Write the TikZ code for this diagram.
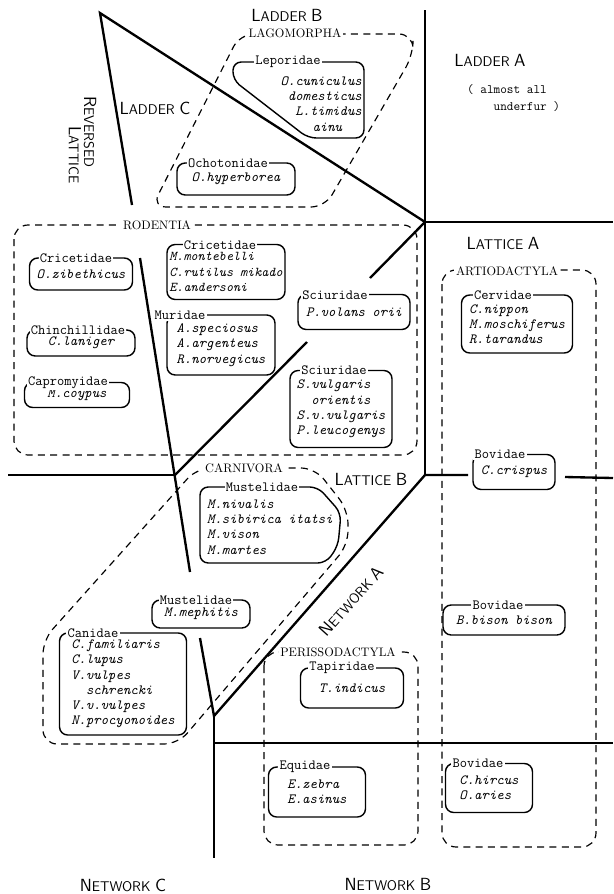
\documentclass[tikz,border=0pt]{standalone}
\usepackage{fontspec}

\newcommand{\pxl}{0.03cm}
\newcommand{\capl}[1]{{\fontsize{15}{15}\selectfont #1}}

\tikzset{
  divline/.style={line width=2pt},
  grp/.style={dash pattern=on 6pt off 4.5pt, line width=1pt, rounded corners=12pt},
  boxline/.style={line width=1.2pt, rounded corners=7pt},
  box/.style={draw, boxline, inner sep=0pt, font=\fontsize{12}{13}\selectfont\ttfamily\itshape},
  spp/.style={inner sep=0pt, font=\fontsize{12}{13}\selectfont\ttfamily\itshape},
  bx/.style 2 args={minimum width=#1*\pxl, minimum height=#2*\pxl},
  fam/.style={fill=white, inner sep=1pt, font=\fontsize{12}{13}\selectfont\ttfamily},
  grplbl/.style={fill=white, inner sep=1.5pt, font=\fontsize{10.5}{11}\selectfont\rmfamily},
  region/.style={font=\fontsize{12}{13}\selectfont\sffamily},
  note/.style={font=\fontsize{11}{14}\selectfont\ttfamily},
}

\begin{document}
\begin{tikzpicture}[x=\pxl, y=-\pxl]
\useasboundingbox (0,0) rectangle (613,894);

% junctions of the dividing lines
\coordinate (top) at (100,13);
\coordinate (hub) at (425,222);
\coordinate (west) at (175,475);
\coordinate (south) at (214,716);
\coordinate (east) at (425,475);

% dividing lines
\draw[divline] (132,205) -- (top) -- (hub);
\draw[divline] (425,10) -- (hub) -- (east);
\draw[divline] (hub) -- (613,222);
\draw[divline] (hub) -- (370,278);
\draw[divline] (307,342) -- (west);
\draw[divline] (8,475) -- (west);
\draw[divline] (140,258) -- (190,572);
\draw[divline] (200,638) -- (south) -- (east) -- (468,475);
\draw[divline] (565,477) -- (613,478);
\draw[divline] (south) -- (214,858);
\draw[divline] (214,743) -- (613,743);

% orders
\draw[grp] (300,34) -- (413,34) -- (413,55) -- (325,207) -- (152,207) -- (240,34) -- cycle;
\node[grplbl] (lago) at (295,33) {LAGOMORPHA};
\draw[grp] (14,225) rectangle (417,455);
\node[grplbl] (rode) at (157,225) {RODENTIA};
\draw[grp] (250,468) -- (315,468) -- (348,510) -- (348,545) -- (178,744) -- (43,744) -- (43,640) -- (197,468) -- cycle;
\node[grplbl] (carn) at (244,468) {CARNIVORA};
\draw[grp] (442,270) rectangle (596,847);
\node[grplbl] (artio) at (507,271) {ARTIODACTYLA};
\draw[grp] (264,652) rectangle (418,845);
\node[grplbl] (peri) at (338,652) {PERISSODACTYLA};

% families
\draw[boxline] (300,62) -- (364,62) -- (364,138) -- (308,138) -- (233,80) -- (233,62) -- cycle;
\node[spp, anchor=east, align=right] (lep) at (362,104) {O.cuniculus\\domesticus\\L.timidus\\ainu\hspace*{1.4em}};
\node[fam] (lepL) at (288,62) {Leporidae};

\node[box, bx={118}{32}] (ocho) at (236,179) {O.hyperborea};
\node[fam] (ochoL) at (228,163) {Ochotonidae};

\node[box, bx={103}{32}] (zib) at (81,274) {O.zibethicus};
\node[fam] (zibL) at (76,258) {Cricetidae};

\node[box, bx={118}{55}, align=left, font=\fontsize{11.5}{13}\selectfont\ttfamily\itshape] (crice) at (226,272) {M.montebelli\\C.rutilus mikado\\E.andersoni};
\node[fam] (criceL) at (220,245) {Cricetidae};

\node[box, bx={108}{26}] (chin) at (81,343) {C.laniger};
\node[fam] (chinL) at (78,330) {Chinchillidae};

\node[box, bx={105}{25}] (capro) at (77,395) {M.coypus};
\node[fam] (caproL) at (68,383) {Capromyidae};

\node[box, bx={108}{60}, align=left] (muri) at (221,345) {A.speciosus\\A.argenteus\\R.norvegicus};
\node[fam] (muriL) at (180,315) {Muridae};

\node[box, bx={112}{35}] (volans) at (354,312) {P.volans orii};
\node[fam] (volansL) at (335,295) {Sciuridae};

\node[box, bx={102}{77}, align=left] (vulg) at (341,409) {S.vulgaris\\\phantom{S.}orientis\\S.v.vulgaris\\P.leucogenys};
\node[fam] (vulgL) at (334,370) {Sciuridae};

\node[box, bx={111}{58}, align=left] (cerv) at (517,324) {C.nippon\\M.moschiferus\\R.tarandus};
\node[fam] (cervL) at (503,295) {Cervidae};

\node[box, bx={82}{35}] (crisp) at (514,472) {C.crispus};
\node[fam] (crispL) at (500,454) {Bovidae};

\node[box, bx={122}{30}] (bison) at (504,620) {B.bison bison};
\node[fam] (bisonL) at (498,605) {Bovidae};

\node[box, bx={103}{40}] (tapir) at (352,688) {T.indicus};
\node[fam] (tapirL) at (342,668) {Tapiridae};

\node[box, bx={97}{50}, align=left] (equi) at (317,792) {E.zebra\\E.asinus};
\node[fam] (equiL) at (305,767) {Equidae};

\node[box, bx={87}{49}, align=left] (hirc) at (489,788) {C.hircus\\O.aries};
\node[fam] (hircL) at (478,763) {Bovidae};

\draw[boxline] (260,487) -- (318,487) -- (341,513) -- (338,546) -- (326,563) -- (200,563) -- (200,487) -- cycle;
\node[spp, anchor=west, align=left] (must) at (207,527) {M.nivalis\\M.sibirica itatsi\\M.vison\\M.martes};
\node[fam] (mustL) at (262,487) {Mustelidae};

\node[box, bx={98}{28}] (meph) at (201,614) {M.mephitis};
\node[fam] (mephL) at (196,600) {Mustelidae};

\node[box, bx={127}{102}, align=left] (cani) at (123,684) {C.familiaris\\C.lupus\\V.vulpes\\\phantom{V.}schrencki\\V.v.vulpes\\N.procyonoides};
\node[fam] (caniL) at (93,633) {Canidae};

% regions
\node[region] (ladB) at (287,15) {\capl{L}ADDER \capl{B}};
\node[region] (ladA) at (490,60) {\capl{L}ADDER \capl{A}};
\node[region] (ladC) at (155,108) {\capl{L}ADDER \capl{C}};
\node[region, rotate=-90] (rev) at (90,132) {\capl{R}EVERSED};
\node[region, rotate=-90] (lat) at (75,155) {\capl{L}ATTICE};
\node[region] (latA) at (503,243) {\capl{L}ATTICE \capl{A}};
\node[region] (latB) at (371,479) {\capl{L}ATTICE \capl{B}};
\node[region, rotate=48] (netA) at (351,601) {\capl{N}ETWORK \capl{A}};
\node[region] (netC) at (123,885) {\capl{N}ETWORK \capl{C}};
\node[region] (netB) at (388,885) {\capl{N}ETWORK \capl{B}};
\node[note, anchor=west, align=left] (fur) at (463,98) {( almost all\\\phantom{( al}underfur )};
\end{tikzpicture}
\end{document}
